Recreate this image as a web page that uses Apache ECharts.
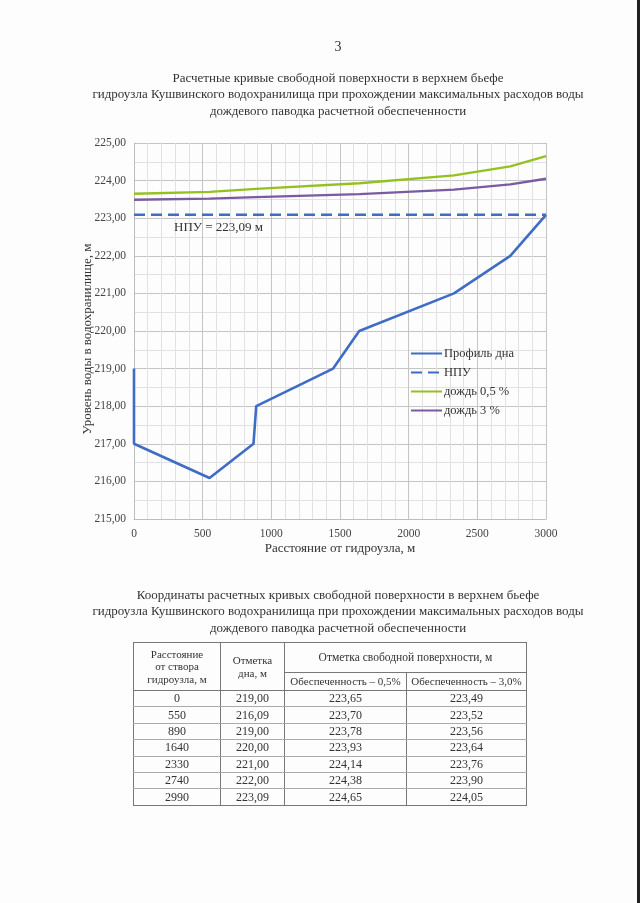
<!DOCTYPE html>
<html>
<head>
<meta charset="utf-8">
<script src="https://cdn.jsdelivr.net/npm/echarts@6/dist/echarts.min.js"></script>
<style>
  html, body { margin:0; padding:0; background:#fff; }
  #page { position:relative; width:640px; height:903px; overflow:hidden; background:#fdfdfd; }
  #chart { position:absolute; left:0; top:0; width:640px; height:903px; }
  #edge { position:absolute; right:0; top:0; width:3px; height:903px; background:#222; }
  #tbl { position:absolute; left:133px; top:642px; border-collapse:collapse; font-family:"Liberation Serif", serif; color:#333; font-size:12px; }
  #tbl td { border:1px solid #777; text-align:center; padding:0; }
  #tbl tbody td { border-top:1px solid #aaa; border-bottom:1px solid #aaa; height:15.4px; line-height:15px; }
  #tbl tbody tr:last-child td { border-bottom:1px solid #777; }
  .hd { font-size:11px; line-height:12.5px; }
</style>
</head>
<body>
<div id="page">
  <div id="chart"></div>
  <table id="tbl"></table>
  <div id="edge"></div>
</div>
<script>
// ---- data ----
const profileX   = [0, 0, 550, 870, 890, 1450, 1640, 2330, 2740, 3000];
const profileY   = [219.00, 217.00, 216.09, 217.00, 218.00, 219.00, 220.00, 221.00, 222.00, 223.09];
const surfX      = [0, 550, 890, 1640, 2330, 2740, 3000];
const rain05     = [223.65, 223.70, 223.78, 223.93, 224.14, 224.38, 224.65];
const rain3      = [223.49, 223.52, 223.56, 223.64, 223.76, 223.90, 224.05];
const npuX       = [0, 3000];
const npuY       = [223.09, 223.09];
const seriesNames = ['Профиль дна', 'НПУ', 'дождь 0,5 %', 'дождь 3 %'];

// table data
const tblDist    = [0, 550, 890, 1640, 2330, 2740, 2990];
const tblBottom  = [219.00, 216.09, 219.00, 220.00, 221.00, 222.00, 223.09];
const tblP05     = [223.65, 223.70, 223.78, 223.93, 224.14, 224.38, 224.65];
const tblP30     = [223.49, 223.52, 223.56, 223.64, 223.76, 223.90, 224.05];

const fmt = v => v.toFixed(2).replace('.', ',');
const pair = (xs, ys) => xs.map((x, i) => [x, ys[i]]);

const SERIF = '"Liberation Serif", "DejaVu Serif", serif';
const BLUE = '#3f6cc4', GREEN = '#95c11f', PURPLE = '#7a5aa0';

const chart = echarts.init(document.getElementById('chart'));
chart.setOption({
  backgroundColor: 'transparent',
  animation: false,
  title: [
    { text: '3', left: 333, top: 35, textAlign: 'center',
      textStyle: { fontFamily: SERIF, fontSize: 14, fontWeight: 'normal', color: '#333' } },
    { text: 'Расчетные кривые свободной поверхности в верхнем бьефе\nгидроузла Кушвинского водохранилища при прохождении максимальных расходов воды\nдождевого паводка расчетной обеспеченности',
      left: 333, top: 65, textAlign: 'center',
      textStyle: { fontFamily: SERIF, fontSize: 13, fontWeight: 'normal', color: '#333', lineHeight: 16.5, align: 'center' } },
    { text: 'Координаты расчетных кривых свободной поверхности в верхнем бьефе\nгидроузла Кушвинского водохранилища при прохождении максимальных расходов воды\nдождевого паводка расчетной обеспеченности',
      left: 333, top: 582, textAlign: 'center',
      textStyle: { fontFamily: SERIF, fontSize: 13, fontWeight: 'normal', color: '#333', lineHeight: 16.5, align: 'center' } }
  ],
  grid: { left: 134, right: 94, top: 143, bottom: 384 },
  legend: {
    orient: 'vertical', left: 405, top: 342,
    itemWidth: 31, itemHeight: 13, itemGap: 6,
    data: seriesNames,
    itemStyle: { opacity: 0 },
    textStyle: { fontFamily: SERIF, fontSize: 12.5, color: '#333', padding: [0, 0, 0, -3] }
  },
  xAxis: {
    type: 'value', min: 0, max: 3000, interval: 500,
    name: 'Расстояние от гидроузла, м', nameLocation: 'middle', nameGap: 23,
    nameMoveOverlap: false,
    nameTextStyle: { fontFamily: SERIF, fontSize: 13, color: '#333' },
    axisLine: { show: true, lineStyle: { color: '#bdbdbd' } },
    axisTick: { show: false },
    axisLabel: { fontFamily: SERIF, fontSize: 11.5, color: '#444', margin: 9, formatter: v => String(v) },
    splitLine: { show: true, lineStyle: { color: '#c4c4c4', width: 1 } },
    minorTick: { show: false, splitNumber: 5 },
    minorSplitLine: { show: true, lineStyle: { color: '#e2e2e2', width: 1 } }
  },
  yAxis: {
    type: 'value', min: 215, max: 225, interval: 1,
    name: 'Уровень воды в водохранилище, м', nameLocation: 'middle', nameGap: 40, nameRotate: 90,
    nameMoveOverlap: false,
    nameTextStyle: { fontFamily: SERIF, fontSize: 13, color: '#333', padding: [0, 16, 0, 0] },
    axisLine: { show: true, lineStyle: { color: '#bdbdbd' } },
    axisTick: { show: false },
    axisLabel: { fontFamily: SERIF, fontSize: 11.5, color: '#444', margin: 8, formatter: fmt },
    splitLine: { show: true, lineStyle: { color: '#c4c4c4', width: 1 } },
    minorTick: { show: false, splitNumber: 2 },
    minorSplitLine: { show: true, lineStyle: { color: '#e2e2e2', width: 1 } }
  },
  series: [
    { name: seriesNames[0], type: 'line', symbol: 'none', data: pair(profileX, profileY),
      lineStyle: { color: BLUE, width: 2.6 }, itemStyle: { color: BLUE } },
    { name: seriesNames[1], type: 'line', symbol: 'none', data: pair(npuX, npuY),
      lineStyle: { color: BLUE, width: 2.6, type: [11, 6] }, itemStyle: { color: BLUE },
      markPoint: {
        symbol: 'rect', symbolSize: 0,
        data: [{ coord: [255, 222.74], value: 'НПУ = 223,09 м' }],
        label: { show: true, position: 'right', formatter: 'НПУ = 223,09 м', fontFamily: SERIF, fontSize: 13, color: '#333' }
      } },
    { name: seriesNames[2], type: 'line', symbol: 'none', data: pair(surfX, rain05),
      lineStyle: { color: GREEN, width: 2.4 }, itemStyle: { color: GREEN } },
    { name: seriesNames[3], type: 'line', symbol: 'none', data: pair(surfX, rain3),
      lineStyle: { color: PURPLE, width: 2.4 }, itemStyle: { color: PURPLE } }
  ]
});

// ---- table ----
const tbl = document.getElementById('tbl');
let html = '<colgroup><col style="width:87px"><col style="width:64px"><col style="width:122px"><col style="width:120px"></colgroup>';
html += '<thead><tr style="height:30px">' +
  '<td rowspan="2" class="hd">Расстояние<br>от створа<br>гидроузла, м</td>' +
  '<td rowspan="2" class="hd">Отметка<br>дна, м</td>' +
  '<td colspan="2" class="hd" style="font-size:11.5px">Отметка свободной поверхности, м</td></tr>' +
  '<tr style="height:18px"><td class="hd" style="font-size:11px">Обеспеченность – 0,5%</td>' +
  '<td class="hd" style="font-size:11px">Обеспеченность – 3,0%</td></tr></thead><tbody>';
tblDist.forEach((d, i) => {
  html += '<tr><td>' + d + '</td><td>' + fmt(tblBottom[i]) + '</td><td>' + fmt(tblP05[i]) + '</td><td>' + fmt(tblP30[i]) + '</td></tr>';
});
html += '</tbody>';
tbl.innerHTML = html;
</script>
</body>
</html>
